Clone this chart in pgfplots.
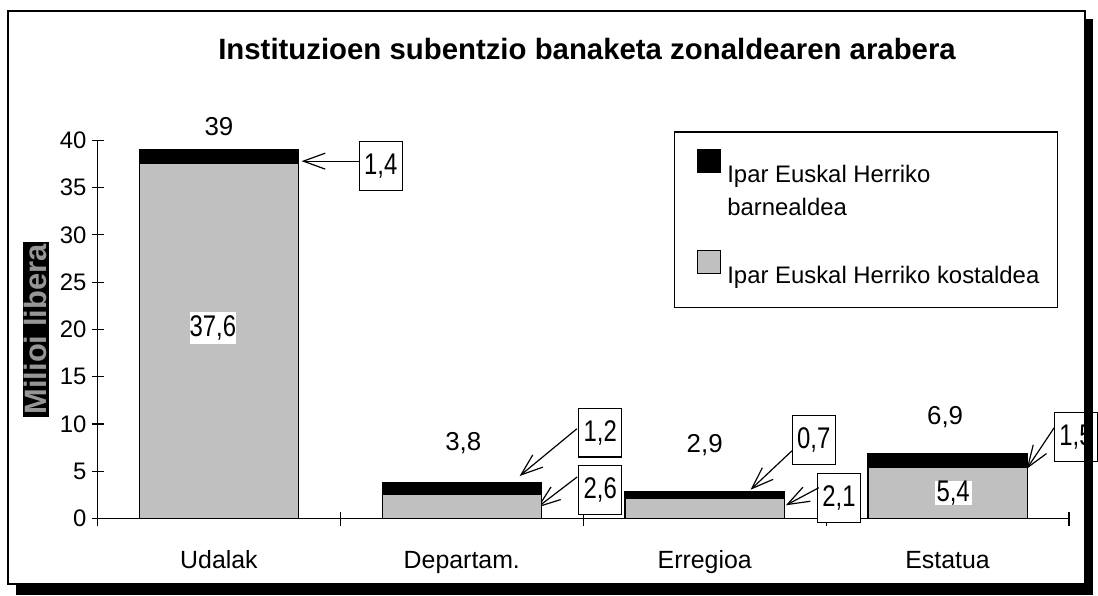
\documentclass[border=0pt]{standalone}
\usepackage{pgfplots}
\pgfplotsset{compat=1.18}
\usepackage{fontspec}
\setmainfont{Liberation Sans}
\newfontfamily\tallfont[FakeStretch=0.8]{Liberation Sans}
\usetikzlibrary{arrows.meta}

\definecolor{barlight}{RGB}{192,192,192}
\definecolor{labgray}{RGB}{150,150,150}

\tikzset{
  lbl/.style={font=\fontsize{13}{15}\selectfont, inner sep=1pt},
  tall/.style={font=\tallfont\fontsize{15}{17}\selectfont},
  callout/.style={tall, draw=black, fill=white, line width=0.6pt,
    minimum width=21.5pt, minimum height=24.5pt, inner sep=0pt},
  pointer/.style={-{Straight Barb[length=11pt,width=8pt]}, line width=0.6pt},
}
% square legend swatch; the two arguments keep empty room above and below it
\pgfplotsset{
  sqlegend/.style 2 args={legend image code/.code={
    \path (0pt,#1) (0pt,#2);
    \draw[##1] (0pt,-11.5pt) rectangle (11.5pt,0pt);}},
}

\begin{document}
\begin{tikzpicture}
% page box in reference pixels (1px = 0.5pt), y pointing down
\begin{scope}[x=0.5pt,y=-0.5pt]
  \useasboundingbox (0,0) rectangle (1098,598);
\end{scope}

\begin{axis}[
  at={(49pt,-260.5pt)}, anchor=south west,
  width=488pt, height=190pt, scale only axis,
  clip=false,
  ybar stacked, bar width=80pt,
  xmin=-0.5, xmax=3.5, ymin=0, ymax=40,
  axis x line*=bottom, axis y line*=left,
  axis line style={line width=0.6pt, black},
  ytick={0,5,...,40},
  xtick={0,1,2,3},
  xticklabels={Udalak, Departam., Erregioa, Estatua},
  minor xtick={-0.5,0.5,1.5,2.5,3.5},
  tick align=center,
  major tick length=6pt, minor tick length=7pt,
  tick style={black, line width=0.6pt},
  major x tick style={draw=none},
  tick label style={font=\fontsize{12}{14}\selectfont},
  yticklabel style={/pgf/number format/assume math mode=true, xshift=1pt},
  xticklabel style={font=\fontsize{12.5}{14}\selectfont, anchor=base, yshift=-22pt},
  title={\textbf{Instituzioen subentzio banaketa zonaldearen arabera}},
  title style={at={(axis description cs:0.504,1.1816)}, anchor=base,
    font=\fontsize{14.75}{17}\selectfont},
  ylabel={Milioi libera},
  ylabel style={at={(axis description cs:-0.0635,0.5)}, anchor=center,
    fill=black, text=labgray, font=\bfseries\fontsize{15.5}{17}\selectfont,
    minimum width=88pt, minimum height=13pt, inner xsep=0pt, inner ysep=0.5pt},
  reverse legend,
  legend style={at={(0.5932,1.0237)}, anchor=north west, draw=black,
    line width=0.6pt, inner xsep=11.5pt, inner ysep=8.5pt,
    cells={anchor=north west},
    font=\fontsize{12}{16.5}\selectfont},
]

\addplot[fill=barlight, draw=black, line width=0.6pt, sqlegend={30pt}{-19pt}]
  coordinates {(0,37.6) (1,2.6) (2,2.1) (3,5.4)};
\addlegendentry{\hspace*{1pt}\makebox[152.5pt][l]{\rule{0pt}{14.5pt}Ipar Euskal Herriko kostaldea}}

\addplot[fill=black, draw=black, line width=0.6pt, sqlegend={0pt}{-11.5pt}]
  coordinates {(0,1.4) (1,1.2) (2,0.7) (3,1.5)};
\addlegendentry{\hspace*{1pt}\parbox[t]{152.5pt}{\rule{0pt}{14.5pt}Ipar Euskal Herriko\\barnealdea}}

% totals above the bars
\node[lbl] at (axis cs:0,41.5) {39};
\node[lbl] at (axis cs:1.006,8.0) {3,8};
\node[lbl] at (axis cs:2.0,7.8) {2,9};
\node[lbl] at (axis cs:2.99,10.7) {6,9};

% anchors for the values shown inside the bars (drawn after the axis)
\coordinate (inUdalak) at (axis cs:-0.025,20.16);
\coordinate (inEstatua) at (axis cs:3.023,2.68);

% call-out boxes with pointers
\draw[pointer] (axis cs:0.578,37.8) -- (axis cs:0.340,37.8);
\node[callout] at (axis cs:0.666,37.3) {1,4};

\draw[pointer] (axis cs:1.474,9.5) -- (axis cs:1.238,4.5);
\node[callout] at (axis cs:1.570,9.1) {1,2};

\draw[pointer] (axis cs:1.475,4.4) -- (axis cs:1.310,1.16);
\node[callout] at (axis cs:1.570,3.05) {2,6};

\draw[pointer] (axis cs:2.359,7.16) -- (axis cs:2.189,3.05);
\node[callout] at (axis cs:2.449,8.3) {0,7};

\draw[pointer] (axis cs:2.470,3.26) -- (axis cs:2.334,1.40);
\node[callout] at (axis cs:2.553,2.16) {2,1};

\draw[pointer] (axis cs:3.439,9.6) -- (axis cs:3.326,5.26);
\node[callout] at (axis cs:3.529,8.6) {1,5};

\end{axis}

\node[tall, fill=white, inner xsep=0pt, inner ysep=1.7pt] at (inUdalak) {37,6};
\node[tall, fill=white, inner xsep=1pt, inner ysep=0pt] at (inEstatua) {5,4};

% outer frame with its drop shadow
\begin{scope}[x=0.5pt,y=-0.5pt]
  \draw[line width=1pt] (8,11) rectangle (1090,587);
  \fill (1090,19) rectangle (1098,598);
  \fill (16,587) rectangle (1098,598);
\end{scope}
\end{tikzpicture}
\end{document}
